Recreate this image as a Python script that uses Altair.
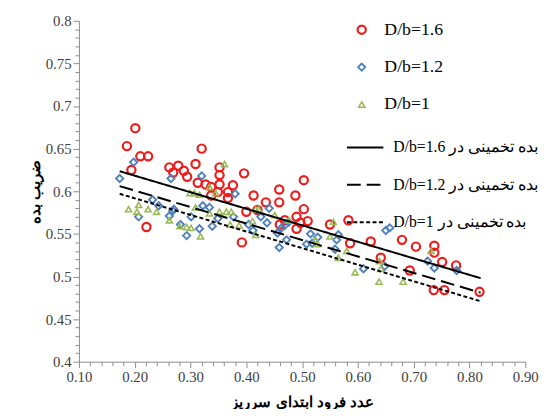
import altair as alt
import pandas as pd

# ---- data ----
series_names = ["D/b=1.6", "D/b=1.2", "D/b=1"]
fit_names = ["D/b=1.6 بده تخمینی در", "D/b=1.2 بده تخمینی در", "D/b=1 بده تخمینی در"]

x_16 = [0.186, 0.201, 0.194, 0.210, 0.224, 0.221, 0.262, 0.269, 0.278, 0.288,
        0.294, 0.309, 0.313, 0.320, 0.327, 0.337, 0.337, 0.352, 0.352, 0.352,
        0.349, 0.367, 0.367, 0.376, 0.396, 0.392, 0.400, 0.413, 0.420, 0.435,
        0.459, 0.459, 0.460, 0.469, 0.488, 0.490, 0.490, 0.497, 0.503, 0.503,
        0.510, 0.550, 0.583, 0.586, 0.623, 0.641, 0.679, 0.693, 0.704, 0.737,
        0.737, 0.736, 0.755, 0.751, 0.776, 0.818]
y_16 = [0.653, 0.674, 0.625, 0.641, 0.641, 0.558, 0.628, 0.622, 0.630, 0.624,
        0.617, 0.632, 0.610, 0.650, 0.608, 0.605, 0.595, 0.628, 0.619, 0.608,
        0.599, 0.599, 0.592, 0.607, 0.621, 0.540, 0.576, 0.595, 0.578, 0.587,
        0.602, 0.587, 0.561, 0.566, 0.595, 0.570, 0.556, 0.563, 0.579, 0.613,
        0.565, 0.561, 0.566, 0.539, 0.541, 0.522, 0.543, 0.507, 0.535, 0.536,
        0.528, 0.484, 0.484, 0.517, 0.513, 0.482]

x_12 = [0.173, 0.198, 0.207, 0.232, 0.243, 0.265, 0.262, 0.268, 0.270, 0.282,
        0.293, 0.301, 0.316, 0.320, 0.322, 0.334, 0.339, 0.349, 0.380, 0.377,
        0.404, 0.412, 0.426, 0.441, 0.437, 0.456, 0.459, 0.463, 0.469, 0.472,
        0.476, 0.508, 0.515, 0.528, 0.518, 0.559, 0.562, 0.565, 0.610, 0.648,
        0.650, 0.657, 0.725, 0.737, 0.777]
y_12 = [0.615, 0.634, 0.570, 0.590, 0.583, 0.615, 0.571, 0.577, 0.579, 0.561,
        0.548, 0.570, 0.556, 0.618, 0.583, 0.581, 0.559, 0.568, 0.597, 0.570,
        0.561, 0.554, 0.570, 0.580, 0.563, 0.551, 0.534, 0.557, 0.560, 0.543,
        0.564, 0.538, 0.550, 0.546, 0.539, 0.532, 0.543, 0.549, 0.509, 0.512,
        0.554, 0.557, 0.518, 0.510, 0.507]

x_10 = [0.189, 0.204, 0.207, 0.224, 0.239, 0.262, 0.281, 0.293, 0.301, 0.299,
        0.307, 0.316, 0.309, 0.318, 0.334, 0.334, 0.345, 0.352, 0.361, 0.364,
        0.373, 0.371, 0.387, 0.411, 0.417, 0.422, 0.417, 0.451, 0.476, 0.524,
        0.527, 0.550, 0.556, 0.565, 0.580, 0.595, 0.638, 0.639, 0.641, 0.681,
        0.731]
y_10 = [0.579, 0.576, 0.584, 0.579, 0.576, 0.566, 0.559, 0.558, 0.557, 0.598,
        0.598, 0.596, 0.581, 0.547, 0.605, 0.574, 0.598, 0.576, 0.632, 0.576,
        0.576, 0.561, 0.560, 0.565, 0.579, 0.579, 0.549, 0.572, 0.566, 0.543,
        0.538, 0.547, 0.564, 0.522, 0.530, 0.505, 0.494, 0.518, 0.509, 0.494,
        0.530]

fit_x = [0.173, 0.820]
fit_16 = [0.6235, 0.498]
fit_12 = [0.606, 0.481]
fit_10 = [0.597, 0.471]

x_ticks = [round(0.1 + 0.02 * i, 2) for i in range(41)]
y_ticks = [round(0.4 + 0.01 * i, 2) for i in range(41)]

# ---- tables ----
pts = pd.concat([
    pd.DataFrame({"x": x_16, "y": y_16, "series": series_names[0]}),
    pd.DataFrame({"x": x_12, "y": y_12, "series": series_names[1]}),
    pd.DataFrame({"x": x_10, "y": y_10, "series": series_names[2]}),
], ignore_index=True)

lines = pd.concat([
    pd.DataFrame({"x": fit_x, "y": fit_16, "fit": fit_names[0]}),
    pd.DataFrame({"x": fit_x, "y": fit_12, "fit": fit_names[1]}),
    pd.DataFrame({"x": fit_x, "y": fit_10, "fit": fit_names[2]}),
], ignore_index=True)

serif = "Liberation Serif, Times New Roman, serif"

x_scale = alt.Scale(domain=[0.1, 0.9], nice=False, zero=False)
y_scale = alt.Scale(domain=[0.4, 0.8], nice=False, zero=False)

x_major_test = "abs(datum.value*10 - round(datum.value*10)) < 0.001"
y_major_test = "abs(datum.value*20 - round(datum.value*20)) < 0.001"

x_axis = alt.Axis(
    values=x_ticks,
    labelExpr=x_major_test + " ? format(datum.value, '.2f') : ''",
    tickSize={"condition": {"test": x_major_test, "value": 6}, "value": 4},
    labelOverlap=False, labelFlush=False, titlePadding=10,
    labelFont=serif, labelFontSize=15, labelColor="#404040",
)
y_axis = alt.Axis(
    values=y_ticks,
    labelExpr=y_major_test + " ? format(datum.value, '.2~f') : ''",
    tickSize={"condition": {"test": y_major_test, "value": 6}, "value": 4},
    labelOverlap=False, labelFlush=False, titlePadding=3,
    labelFont=serif, labelFontSize=15, labelColor="#404040",
)
x_title = "عدد فرود ابتدای سرریز"
y_title = "ضریب بده"

pt_legend = alt.Legend(
    orient="none", legendX=278, legendY=0, title=None,
    symbolSize=55, symbolStrokeWidth=2, rowPadding=20,
    labelFontSize=18, labelOffset=14, labelLimit=300,
)

points = alt.Chart(pts).mark_point(filled=False, opacity=1).encode(
    x=alt.X("x:Q", scale=x_scale, axis=x_axis, title=x_title),
    y=alt.Y("y:Q", scale=y_scale, axis=y_axis, title=y_title),
    color=alt.Color("series:N",
                    scale=alt.Scale(domain=series_names, range=["#ee1c1c", "#4f81bd", "#9bbb59"]),
                    legend=pt_legend),
    shape=alt.Shape("series:N",
                    scale=alt.Scale(domain=series_names, range=["circle", "diamond", "triangle-up"]),
                    legend=pt_legend),
    size=alt.Size("series:N", scale=alt.Scale(domain=series_names, range=[70, 38, 50]), legend=None),
    strokeWidth=alt.StrokeWidth("series:N", scale=alt.Scale(domain=series_names, range=[2.2, 1.6, 1.6]),
                                legend=None),
)

fit_lines = alt.Chart(lines).mark_line(color="black", strokeWidth=2).encode(
    x=alt.X("x:Q", scale=x_scale, axis=x_axis, title=x_title),
    y=alt.Y("y:Q", scale=y_scale, axis=y_axis, title=y_title),
    strokeDash=alt.StrokeDash(
        "fit:N",
        scale=alt.Scale(domain=fit_names, range=[[1, 0], [14, 6], [4, 2.5]]),
        legend=alt.Legend(
            orient="none", legendX=271, legendY=109, title=None,
            symbolType="stroke", symbolSize=1369, symbolStrokeWidth=2,
            symbolStrokeColor="black", rowPadding=10,
            labelFontSize=16, labelOffset=9, labelLimit=300,
        ),
    ),
)

chart = alt.layer(points, fit_lines).properties(
    width=453, height=346,
    autosize=alt.AutoSizeParams(type="none"),
    padding={"left": 72, "top": 10, "right": 18, "bottom": 45},
).configure_view(stroke=None).configure_axis(
    grid=False, domainColor="#8c8c8c", tickColor="#8c8c8c",
    labelFont=serif, labelFontSize=15, labelColor="#404040",
    titleFont="Liberation Sans", titleFontSize=15, titleFontWeight="bold", titleColor="black",
).configure_legend(
    labelFont=serif, labelColor="black", padding=0,
)

chart.save("out.html", embed_options={"renderer": "svg", "actions": False})
